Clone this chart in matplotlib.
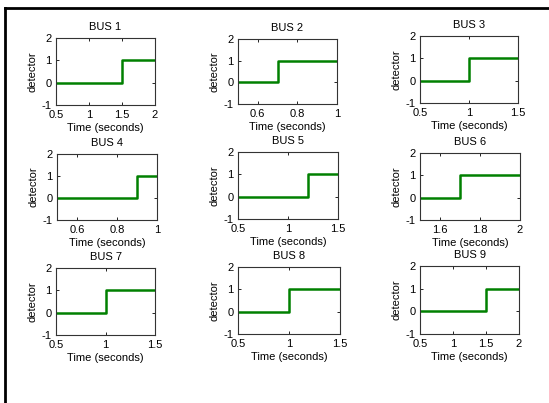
import matplotlib.pyplot as plt
from matplotlib.ticker import FuncFormatter
from matplotlib.lines import Line2D

# data for each bus: x range and the time the detector switches to 1
buses = ['BUS 1', 'BUS 2', 'BUS 3', 'BUS 4', 'BUS 5', 'BUS 6', 'BUS 7', 'BUS 8', 'BUS 9']
t_start = [0.5, 0.5, 0.5, 0.5, 0.5, 1.5, 0.5, 0.5, 0.5]
t_end = [2.0, 1.0, 1.5, 1.0, 1.5, 2.0, 1.5, 1.5, 2.0]
t_step = [1.5, 0.7, 1.0, 0.9, 1.2, 1.7, 1.0, 1.0, 1.5]
xticks = [[0.5, 1, 1.5, 2], [0.6, 0.8, 1], [0.5, 1, 1.5],
          [0.6, 0.8, 1], [0.5, 1, 1.5], [1.6, 1.8, 2],
          [0.5, 1, 1.5], [0.5, 1, 1.5], [0.5, 1, 1.5, 2]]
level_before = 0
level_after = 1

W, H = 549, 403
# axes boxes in pixels: left, top, right, bottom
boxes = [(56, 38, 155, 105), (238, 39, 337, 104), (420, 36, 518, 103),
         (57, 154, 157, 220), (238, 152, 338, 219), (420, 153, 520, 220),
         (56, 268, 155, 335), (238, 267, 340, 334), (420, 266, 519, 334)]

plt.rcParams['font.family'] = ['Liberation Sans', 'DejaVu Sans']
plt.rcParams['font.size'] = 8

fig = plt.figure(figsize=(W / 100, H / 100), dpi=100)
fig.patch.set_facecolor('white')

# frame lines (top and left) of the cropped window
fig.add_artist(Line2D([5 / W, 1], [1 - 8 / H, 1 - 8 / H], color='black', lw=2,
                      transform=fig.transFigure))
fig.add_artist(Line2D([5 / W, 5 / W], [0, 1 - 8 / H], color='black', lw=2,
                      transform=fig.transFigure))

fmt = FuncFormatter(lambda v, p: '%g' % v)

for i, name in enumerate(buses):
    l, t, r, b = boxes[i]
    ax = fig.add_axes([l / W, 1 - b / H, (r - l) / W, (b - t) / H])
    xs = [t_start[i], t_step[i], t_step[i], t_end[i]]
    ys = [level_before, level_before, level_after, level_after]
    ax.plot(xs, ys, color='#008000', lw=1.8)
    ax.set_xlim(t_start[i], t_end[i])
    ax.set_ylim(-1, 2)
    ax.set_xticks(xticks[i])
    ax.set_yticks([-1, 0, 1, 2])
    ax.xaxis.set_major_formatter(fmt)
    ax.yaxis.set_major_formatter(fmt)
    ax.tick_params(direction='in', top=True, right=True, length=2,
                   width=0.6, labelsize=8)
    ax.tick_params(axis='x', pad=3.5)
    ax.tick_params(axis='y', pad=3)
    for s in ax.spines.values():
        s.set_linewidth(0.8)
        s.set_color('#333333')
    ax.set_title(name, fontsize=8, pad=6)
    ax.set_xlabel('Time (seconds)', fontsize=8, labelpad=2)
    ax.set_ylabel('detector', fontsize=8, labelpad=3)

plt.savefig('out.png', dpi=100)
